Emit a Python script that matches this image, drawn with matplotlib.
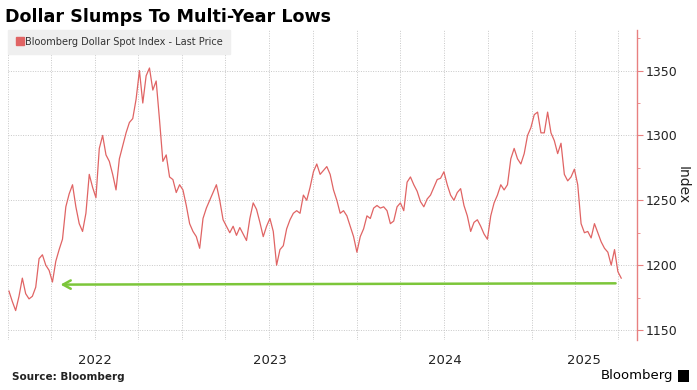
import pandas as pd
import matplotlib
matplotlib.use("Agg")
import matplotlib.pyplot as plt
from matplotlib.lines import Line2D
from matplotlib.patches import Rectangle

# weekly readings of the Bloomberg Dollar Spot Index, from 2022-01-03
start = "2022-01-03"
values = [
    1180, 1172, 1165, 1176, 1190, 1178, 1174, 1176, 1183, 1205,
    1208, 1200, 1196, 1187, 1203, 1212, 1220, 1245, 1255, 1262,
    1245, 1232, 1226, 1240, 1270, 1260, 1252, 1290, 1300, 1285,
    1280, 1270, 1258, 1282, 1292, 1302, 1310, 1313, 1328, 1350,
    1325, 1346, 1352, 1335, 1342, 1312, 1280, 1285, 1268, 1266,
    1256, 1262, 1258, 1246, 1232, 1226, 1222, 1213, 1236, 1244,
    1250, 1256, 1262, 1250, 1235, 1230, 1225, 1230, 1223, 1229,
    1224, 1219, 1236, 1248, 1243, 1233, 1222, 1230, 1236, 1226,
    1200, 1212, 1215, 1228, 1235, 1240, 1242, 1240, 1254, 1250,
    1260, 1272, 1278, 1270, 1273, 1276, 1270, 1258, 1250, 1240,
    1242, 1238, 1230, 1222, 1210, 1222, 1228, 1238, 1236, 1244,
    1246, 1244, 1245, 1242, 1232, 1234, 1245, 1248, 1242, 1264,
    1268, 1262, 1257, 1249, 1245, 1251, 1254, 1260, 1266, 1267,
    1272, 1262, 1254, 1250, 1256, 1259, 1246, 1238, 1226, 1233,
    1235, 1230, 1224, 1220, 1238, 1248, 1254, 1262, 1258, 1262,
    1282, 1290, 1282, 1278, 1286, 1300, 1306, 1316, 1318, 1302,
    1302, 1318, 1302, 1296, 1286, 1294, 1270, 1265, 1268, 1274,
    1262, 1232, 1225, 1226, 1221, 1232, 1225, 1218, 1213, 1210,
    1200, 1212, 1195, 1190,
]
dates = pd.date_range(start, periods=len(values), freq="7D")

# green arrow back to the last time the index was this low
arrow_tail = ("2025-07-01", 1186)
arrow_head = ("2022-04-15", 1185)

y_ticks = [1150, 1200, 1250, 1300, 1350]
years = [2022, 2023, 2024, 2025]

RED = "#E06464"
SPINE = "#E88080"
GRID = "#C8C8C8"
TXT = "#222222"

x_left = pd.Timestamp("2022-01-01")
x_right = pd.Timestamp("2025-08-09")

fig = plt.figure(figsize=(6.97, 3.90), dpi=100)
ax = fig.add_axes([8 / 697, 50 / 390, 629 / 697, 310 / 390])
ax.set_xlim(x_left, x_right)
ax.set_ylim(1142.3, 1381.3)

ax.plot(dates, values, color=RED, lw=0.9, zorder=3)

ax.annotate("", xy=(pd.Timestamp(arrow_head[0]), arrow_head[1]),
            xytext=(pd.Timestamp(arrow_tail[0]), arrow_tail[1]),
            arrowprops=dict(arrowstyle="->,head_length=0.55,head_width=0.3",
                            color="#7CC63A", lw=1.8),
            zorder=4)

# axes styling
for s in ("left", "top", "bottom"):
    ax.spines[s].set_visible(False)
ax.spines["right"].set_color(SPINE)
ax.spines["right"].set_linewidth(1.0)

ax.yaxis.tick_right()
ax.yaxis.set_label_position("right")
ax.set_yticks(y_ticks)
ax.set_yticks([1175, 1225, 1275, 1325, 1375], minor=True)
ax.tick_params(axis="y", which="major", colors=SPINE, labelcolor=TXT,
               length=4, width=0.8, labelsize=9, pad=2)
ax.tick_params(axis="y", which="minor", colors=SPINE, length=2, width=0.6)
ax.set_ylabel("Index", rotation=-90, labelpad=9, fontsize=10, color=TXT)

quarters = pd.date_range("2022-01-01", "2025-07-01", freq="QS")
ax.set_xticks(quarters)
ax.set_xticklabels([])
mids = [pd.Timestamp(f"{y}-07-02") for y in years[:-1]]
last = pd.Timestamp(f"{years[-1]}-01-01")
mids.append(last + (x_right - last) / 2)
ax.set_xticks(mids, minor=True)
ax.set_xticklabels([str(y) for y in years], minor=True)
ax.tick_params(axis="x", which="both", length=0, labelsize=9.5,
               labelcolor=TXT, pad=10)

ax.grid(True, which="major", color=GRID, lw=0.7, ls=(0, (1, 1.5)))
ax.set_axisbelow(True)

leg = ax.legend(handles=[Line2D([], [], ls="none", marker="s", ms=5.5,
                                color=RED, label="Bloomberg Dollar Spot Index - Last Price")],
                loc="upper left", bbox_to_anchor=(0, 1), borderaxespad=0,
                frameon=True, fancybox=False, fontsize=7, handletextpad=0.1,
                handlelength=1.0, borderpad=0.7, labelcolor="#333333")
leg.get_frame().set_facecolor("#EFEFEF")
leg.get_frame().set_edgecolor("#EFEFEF")
leg.get_frame().set_alpha(1)

fig.text(5 / 697, 1 - 17 / 390, "Dollar Slumps To Multi-Year Lows",
         fontsize=12.6, fontweight="bold", va="center", ha="left", color="black")
fig.text(12 / 697, 1 - 377 / 390, "Source: Bloomberg", fontsize=7.5,
         fontweight="bold", va="center", ha="left", color=TXT)
fig.text(673 / 697, 1 - 376 / 390, "Bloomberg", fontsize=9.5,
         va="center", ha="right", color="black")
fig.patches.append(Rectangle((678 / 697, 1 - 382 / 390), 11 / 697, 12 / 390,
                             transform=fig.transFigure, facecolor="black",
                             edgecolor="none"))

fig.savefig("out.png", dpi=100, facecolor="white")
